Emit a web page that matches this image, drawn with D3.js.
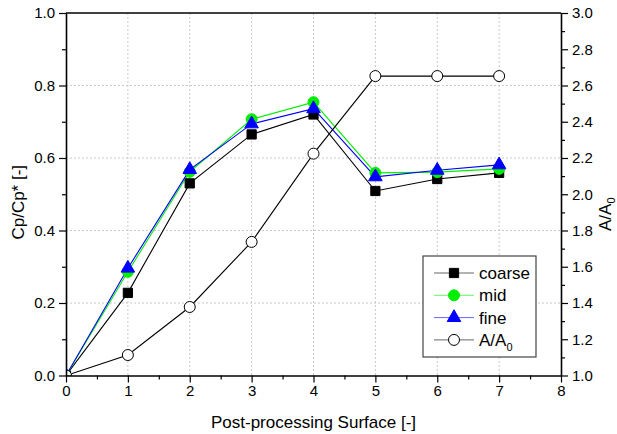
<!DOCTYPE html>
<html>
<head>
<meta charset="utf-8">
<script src="https://cdn.jsdelivr.net/npm/d3@7/dist/d3.min.js"></script>
<style>
  html, body { margin: 0; padding: 0; background: #fff; }
  svg { display: block; font-family: "Liberation Sans", Arial, sans-serif; }
</style>
</head>
<body>
<svg id="chart" width="617" height="434"></svg>
<script>
// Post-processing surface index
const surfaces = [0, 1, 2, 3, 4, 5, 6, 7];
// Cp/Cp* for three mesh resolutions
const coarse = [0.0, 0.228, 0.530, 0.665, 0.720, 0.509, 0.542, 0.559];
const mid    = [0.0, 0.286, 0.562, 0.707, 0.754, 0.559, 0.561, 0.570];
const fine   = [0.0, 0.296, 0.568, 0.694, 0.736, 0.548, 0.566, 0.581];
// Area ratio A/A0 (right axis)
const areaRatio = [1.0, 1.113, 1.378, 1.737, 2.224, 2.652, 2.652, 2.652];

const xTicks = [0, 1, 2, 3, 4, 5, 6, 7, 8];
const yLeftTicks = [0.0, 0.2, 0.4, 0.6, 0.8, 1.0];
const yRightTicks = [1.0, 1.2, 1.4, 1.6, 1.8, 2.0, 2.2, 2.4, 2.6, 2.8, 3.0];

const svg = d3.select("#chart");
const m = { left: 66, right: 561, top: 13, bottom: 375.5 };

const x = d3.scaleLinear().domain([0, 8]).range([m.left, m.right]);
const yL = d3.scaleLinear().domain([0, 1]).range([m.bottom, m.top]);
const yR = d3.scaleLinear().domain([1, 3]).range([m.bottom, m.top]);

// dotted grid
const grid = svg.append("g").attr("stroke", "#c8c8c8").attr("stroke-width", 1)
  .attr("stroke-dasharray", "2,2");
xTicks.filter(v => v > 0 && v < 8).forEach(v => {
  grid.append("line").attr("x1", x(v)).attr("x2", x(v)).attr("y1", m.top).attr("y2", m.bottom);
});
yLeftTicks.filter(v => v > 0 && v < 1).forEach(v => {
  grid.append("line").attr("x1", m.left).attr("x2", m.right).attr("y1", yL(v)).attr("y2", yL(v));
});

// clip region for the data
svg.append("defs").append("clipPath").attr("id", "plotClip")
  .append("rect").attr("x", m.left).attr("y", m.top)
  .attr("width", m.right - m.left).attr("height", m.bottom - m.top);

const plot = svg.append("g").attr("clip-path", "url(#plotClip)");

const series = [
  { name: "coarse", values: coarse, scale: yL, color: "#000000", shape: "square", fill: "#000000" },
  { name: "mid", values: mid, scale: yL, color: "#00ee00", shape: "circle", fill: "#00ee00" },
  { name: "fine", values: fine, scale: yL, color: "#0000ff", shape: "triangle", fill: "#0000ff" },
  { name: "A/A0", values: areaRatio, scale: yR, color: "#000000", shape: "circle", fill: "#ffffff" }
];

const symbolFor = {
  square: d3.symbol().type(d3.symbolSquare).size(85),
  circle: d3.symbol().type(d3.symbolCircle).size(95),
  triangle: d3.symbol().type(d3.symbolTriangle).size(80)
};

series.forEach(s => {
  const line = d3.line().x((d, i) => x(surfaces[i])).y(d => s.scale(d));
  plot.append("path").datum(s.values)
    .attr("d", line).attr("fill", "none")
    .attr("stroke", s.color).attr("stroke-width", 1.1);
});
series.forEach(s => {
  plot.append("g").selectAll("path").data(s.values).join("path")
    .attr("transform", (d, i) => `translate(${x(surfaces[i])},${s.scale(d)})`)
    .attr("d", symbolFor[s.shape]())
    .attr("fill", s.fill)
    .attr("stroke", s.shape === "circle" && s.fill === "#ffffff" ? "#000" : s.fill)
    .attr("stroke-width", 1);
});

// axes
const axisStyle = g => {
  g.selectAll(".domain").attr("stroke", "#000").attr("stroke-width", 1.6);
  g.selectAll(".tick line").attr("stroke", "#000").attr("stroke-width", 1.2);
  g.selectAll("text").attr("font-size", 15).attr("fill", "#000")
    .attr("font-family", "'Liberation Sans', Arial, sans-serif");
};

const minorX = d3.range(0.5, 8, 1);
const minorY = d3.range(0.1, 1, 0.2);
const minorYR = d3.range(1.1, 3, 0.2);

svg.append("g").attr("transform", `translate(0,${m.bottom})`)
  .call(d3.axisBottom(x).tickValues(minorX).tickSize(4).tickFormat(""))
  .call(g => g.select(".domain").remove())
  .call(axisStyle);
svg.append("g").attr("transform", `translate(0,${m.bottom})`)
  .call(d3.axisBottom(x).tickValues(xTicks).tickSize(7).tickSizeOuter(0).tickPadding(3).tickFormat(d3.format("d")))
  .call(axisStyle);

svg.append("g").attr("transform", `translate(${m.left},0)`)
  .call(d3.axisLeft(yL).tickValues(minorY).tickSize(4).tickFormat(""))
  .call(g => g.select(".domain").remove())
  .call(axisStyle);
svg.append("g").attr("transform", `translate(${m.left},0)`)
  .call(d3.axisLeft(yL).tickValues(yLeftTicks).tickSize(7).tickSizeOuter(0).tickPadding(4).tickFormat(d3.format(".1f")))
  .call(axisStyle);

svg.append("g").attr("transform", `translate(${m.right},0)`)
  .call(d3.axisRight(yR).tickValues(minorYR).tickSize(4).tickFormat(""))
  .call(g => g.select(".domain").remove())
  .call(axisStyle);
svg.append("g").attr("transform", `translate(${m.right},0)`)
  .call(d3.axisRight(yR).tickValues(yRightTicks).tickSize(7).tickSizeOuter(0).tickPadding(4).tickFormat(d3.format(".1f")))
  .call(axisStyle);

// top frame line
svg.append("line").attr("x1", m.left).attr("x2", m.right).attr("y1", m.top).attr("y2", m.top)
  .attr("stroke", "#000").attr("stroke-width", 1.6);

// axis titles
svg.append("text").attr("x", (m.left + m.right) / 2).attr("y", 428)
  .attr("text-anchor", "middle").attr("font-size", 17).text("Post-processing Surface [-]");

svg.append("text").attr("transform", `translate(24,${(m.top + m.bottom) / 2 + 8}) rotate(-90)`)
  .attr("text-anchor", "middle").attr("font-size", 17).text("Cp/Cp* [-]");

const rt = svg.append("text").attr("transform", `translate(611,${(m.top + m.bottom) / 2 + 20}) rotate(-90)`)
  .attr("text-anchor", "middle").attr("font-size", 17);
rt.append("tspan").text("A/A");
rt.append("tspan").attr("font-size", 11).attr("dy", 4).text("0");

// legend
const lg = svg.append("g").attr("transform", "translate(423,256)");
lg.append("rect").attr("width", 113).attr("height", 101)
  .attr("fill", "#fff").attr("stroke", "#444").attr("stroke-width", 1.2);
series.forEach((s, i) => {
  const cy = 17 + i * 22.3;
  lg.append("line").attr("x1", 11).attr("x2", 51).attr("y1", cy).attr("y2", cy)
    .attr("stroke", s.color).attr("stroke-width", 1).attr("stroke-opacity", 0.6);
  lg.append("path").attr("transform", `translate(31,${cy})`)
    .attr("d", symbolFor[s.shape]())
    .attr("fill", s.fill)
    .attr("stroke", s.fill === "#ffffff" ? "#000" : s.fill);
  const t = lg.append("text").attr("x", 56).attr("y", cy + 6).attr("font-size", 17);
  if (s.name === "A/A0") {
    t.append("tspan").text("A/A");
    t.append("tspan").attr("font-size", 11).attr("dy", 5).text("0");
  } else {
    t.text(s.name);
  }
});
</script>
</body>
</html>
